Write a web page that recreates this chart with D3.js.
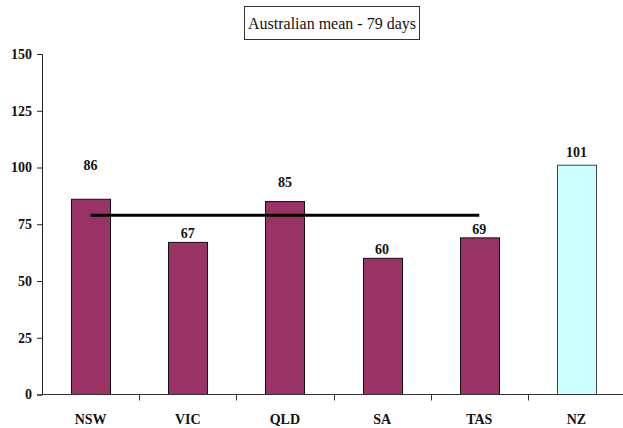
<!DOCTYPE html>
<html>
<head>
<meta charset="utf-8">
<script src="https://cdn.jsdelivr.net/npm/d3@7"></script>
<style>
  html, body { margin: 0; padding: 0; background: #fff; }
  svg { display: block; }
</style>
</head>
<body>
<svg id="chart" width="623" height="428"></svg>
<script>
// Average waiting days by state, with New Zealand for comparison
const regions = ["NSW", "VIC", "QLD", "SA", "TAS", "NZ"];
const days = [86, 67, 85, 60, 69, 101];
const australianRegions = ["NSW", "VIC", "QLD", "SA", "TAS"];
const australianMean = 79;
const yTicks = [0, 25, 50, 75, 100, 125, 150];
const meanLabel = "Australian mean - 79 days";

// Extra lift for value labels that would collide with the mean line
const labelLift = { NSW: 25, QLD: 11, NZ: 4 };

const W = 623, H = 428;
const plot = { left: 42, right: 625, top: 54, bottom: 394.5 };
const font = "'Liberation Serif', 'Times New Roman', serif";
const ausFill = "#993366", nzFill = "#CCFFFF";

const svg = d3.select("#chart");

const x = d3.scaleBand()
  .domain(regions)
  .range([plot.left, plot.right])
  .paddingInner(0.6)
  .paddingOuter(0.3);

const y = d3.scaleLinear()
  .domain([0, 150])
  .range([plot.bottom, plot.top]);

// Y axis
const yAxis = svg.append("g")
  .attr("transform", `translate(${plot.left},0)`)
  .call(d3.axisLeft(y).tickValues(yTicks).tickSizeOuter(0).tickSize(5).tickPadding(5));
yAxis.select(".domain").attr("stroke", "#222");
yAxis.selectAll(".tick line").attr("stroke", "#222");
yAxis.selectAll("text")
  .attr("font-family", font).attr("font-weight", "bold")
  .attr("font-size", 14).attr("fill", "#111");

// Bars
svg.append("g").selectAll("rect")
  .data(regions)
  .join("rect")
  .attr("x", d => Math.round(x(d)) + 0.5)
  .attr("y", (d, i) => y(days[i]))
  .attr("width", Math.round(x.bandwidth()))
  .attr("height", (d, i) => y(0) - y(days[i]))
  .attr("fill", d => d === "NZ" ? nzFill : ausFill)
  .attr("stroke", d => d === "NZ" ? "#444" : "#111")
  .attr("stroke-width", 1);

// X axis line and category separators
const step = x.step();
svg.append("line")
  .attr("x1", plot.left).attr("x2", W)
  .attr("y1", plot.bottom).attr("y2", plot.bottom)
  .attr("stroke", "#333").attr("stroke-width", 1);
svg.append("g").selectAll("line")
  .data(regions.slice(0, -1))
  .join("line")
  .attr("x1", d => Math.round(x(d) + x.bandwidth() + step * x.paddingInner() / 2) + 0.5)
  .attr("x2", d => Math.round(x(d) + x.bandwidth() + step * x.paddingInner() / 2) + 0.5)
  .attr("y1", plot.bottom)
  .attr("y2", plot.bottom + 6)
  .attr("stroke", "#333");

// Category labels
svg.append("g").selectAll("text")
  .data(regions)
  .join("text")
  .attr("x", d => x(d) + x.bandwidth() / 2)
  .attr("y", 424)
  .attr("text-anchor", "middle")
  .attr("font-family", font).attr("font-weight", "bold")
  .attr("font-size", 14).attr("fill", "#111")
  .text(d => d);

// Australian mean line, from first to last Australian state
const first = australianRegions[0], last = australianRegions[australianRegions.length - 1];
svg.append("line")
  .attr("x1", x(first) + x.bandwidth() / 2)
  .attr("x2", x(last) + x.bandwidth() / 2)
  .attr("y1", y(australianMean))
  .attr("y2", y(australianMean))
  .attr("stroke", "#000")
  .attr("stroke-width", 3);

// Value labels
svg.append("g").selectAll("text")
  .data(regions)
  .join("text")
  .attr("x", d => x(d) + x.bandwidth() / 2)
  .attr("y", (d, i) => y(days[i]) - 4 - (labelLift[d] || 0))
  .attr("text-anchor", "middle")
  .attr("font-family", font).attr("font-weight", "bold")
  .attr("font-size", 14).attr("fill", "#111")
  .text((d, i) => days[i]);

// Boxed caption for the mean
const cap = svg.append("g");
cap.append("rect")
  .attr("x", 244.5).attr("y", 6.5)
  .attr("width", 175).attr("height", 33)
  .attr("fill", "#fff").attr("stroke", "#333").attr("stroke-width", 1);
cap.append("text")
  .attr("x", 332).attr("y", 28.5)
  .attr("text-anchor", "middle")
  .attr("font-family", font)
  .attr("font-size", 16).attr("fill", "#111")
  .text(meanLabel);
</script>
</body>
</html>
